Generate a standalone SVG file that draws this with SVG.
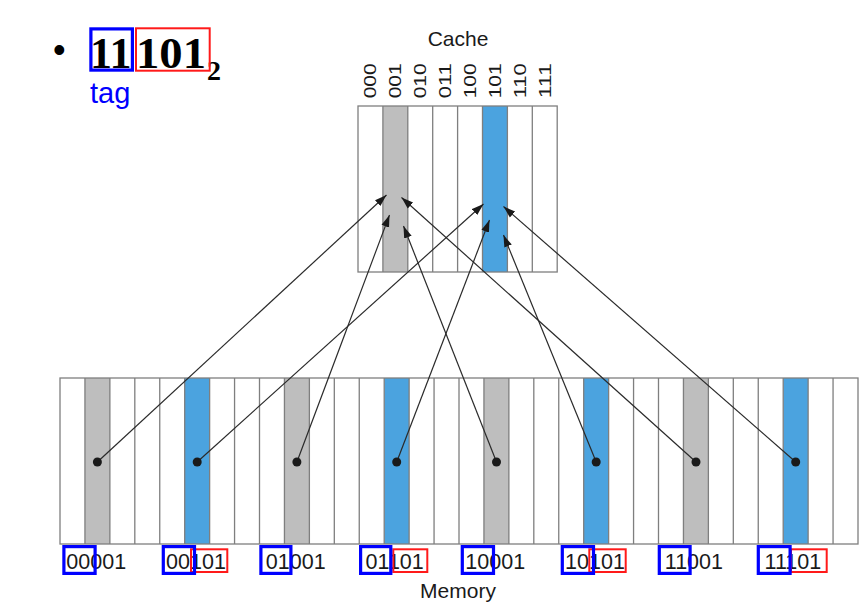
<svg xmlns="http://www.w3.org/2000/svg" width="868" height="610" viewBox="0 0 868 610">
<defs>
<style>
.sans{font-family:"Liberation Sans",Arial,sans-serif;fill:#1a1a1a}
.grid{fill:none;stroke:#7f7f7f;stroke-width:1.3}
.gray{fill:#bebebe}
.blue{fill:#4ba3df}
.conn{stroke:#2a2a2a;stroke-width:1.2;fill:none}
.dot{fill:#1a1a1a}
.tagbox{fill:none;stroke:#0000ff;stroke-width:3.2}
.idxbox{fill:none;stroke:#ff1a1a;stroke-width:2}
.mlab{font-size:21.5px}
.clab{font-size:16.5px}
</style>
<marker id="arr" markerUnits="userSpaceOnUse" markerWidth="14" markerHeight="10" refX="12" refY="4.5" orient="auto">
<path d="M0,0.5 L12,4.5 L0,8.5 z" fill="#1a1a1a"/>
</marker>
</defs>
<rect width="868" height="610" fill="#ffffff"/>

<g id="title">
<text x="53" y="62" font-family="Liberation Sans,Arial,sans-serif" font-size="36" fill="#000">•</text>
<text y="68.3" font-family="Liberation Serif,Times New Roman,serif" font-weight="bold" font-size="44" fill="#000"><tspan x="90">11</tspan><tspan x="136" textLength="70" lengthAdjust="spacingAndGlyphs">101</tspan><tspan x="207" y="80" font-size="28">2</tspan></text>
<rect class="tagbox" x="90.9" y="28.9" width="41.5" height="41.2"/>
<rect class="idxbox" x="136" y="28.3" width="73.7" height="42.4"/>
<text x="90" y="103" font-family="Liberation Sans,Arial,sans-serif" font-size="29" fill="#0000ff">tag</text>
</g>

<g id="cache">
<text class="sans" x="458" y="45.7" font-size="21" text-anchor="middle">Cache</text>
<rect x="358" y="106" width="199.2" height="166" fill="#fff"/>
<rect class="gray" x="382.9" y="106" width="24.9" height="166"/>
<rect class="blue" x="482.5" y="106" width="24.9" height="166"/>
<rect class="grid" x="358" y="106" width="199.2" height="166"/>
<path class="grid" d="M382.9,106V272M407.8,106V272M432.7,106V272M457.6,106V272M482.5,106V272M507.4,106V272M532.3,106V272"/>
<g class="sans clab">
<text transform="translate(376.3,98.3) rotate(-90)" textLength="35" lengthAdjust="spacingAndGlyphs">000</text>
<text transform="translate(401.2,98.3) rotate(-90)" textLength="35" lengthAdjust="spacingAndGlyphs">001</text>
<text transform="translate(426.1,98.3) rotate(-90)" textLength="35" lengthAdjust="spacingAndGlyphs">010</text>
<text transform="translate(451,98.3) rotate(-90)" textLength="35" lengthAdjust="spacingAndGlyphs">011</text>
<text transform="translate(475.9,98.3) rotate(-90)" textLength="35" lengthAdjust="spacingAndGlyphs">100</text>
<text transform="translate(500.8,98.3) rotate(-90)" textLength="35" lengthAdjust="spacingAndGlyphs">101</text>
<text transform="translate(525.7,98.3) rotate(-90)" textLength="35" lengthAdjust="spacingAndGlyphs">110</text>
<text transform="translate(550.6,98.3) rotate(-90)" textLength="35" lengthAdjust="spacingAndGlyphs">111</text>
</g>
</g>

<g id="memory">
<rect x="60" y="378" width="798" height="166" fill="#fff"/>
<g class="gray">
<rect x="84.94" y="378" width="24.94" height="166"/>
<rect x="284.44" y="378" width="24.94" height="166"/>
<rect x="483.94" y="378" width="24.94" height="166"/>
<rect x="683.44" y="378" width="24.94" height="166"/>
</g>
<g class="blue">
<rect x="184.69" y="378" width="24.94" height="166"/>
<rect x="384.19" y="378" width="24.94" height="166"/>
<rect x="583.69" y="378" width="24.94" height="166"/>
<rect x="783.19" y="378" width="24.94" height="166"/>
</g>
<rect class="grid" x="60" y="378" width="798" height="166"/>
<path class="grid" d="M84.94,378V544M109.88,378V544M134.81,378V544M159.75,378V544M184.69,378V544M209.63,378V544M234.56,378V544M259.5,378V544M284.44,378V544M309.38,378V544M334.31,378V544M359.25,378V544M384.19,378V544M409.13,378V544M434.06,378V544M459,378V544M483.94,378V544M508.88,378V544M533.81,378V544M558.75,378V544M583.69,378V544M608.63,378V544M633.56,378V544M658.5,378V544M683.44,378V544M708.38,378V544M733.31,378V544M758.25,378V544M783.19,378V544M808.13,378V544M833.06,378V544"/>
<g class="sans mlab">
<text x="66.3" y="568.5">00001</text>
<text x="166.1" y="568.5">00101</text>
<text x="265.8" y="568.5">01001</text>
<text x="365.6" y="568.5">01101</text>
<text x="465.3" y="568.5">10001</text>
<text x="565.1" y="568.5">10101</text>
<text x="664.8" y="568.5">11001</text>
<text x="764.6" y="568.5">11101</text>
</g>
<g>
<rect class="idxbox" x="191" y="549.3" width="36.3" height="22.7"/>
<rect class="idxbox" x="393.3" y="549.3" width="34" height="22.7"/>
<rect class="idxbox" x="589.3" y="549.3" width="36.4" height="22.7"/>
<rect class="idxbox" x="791" y="549.3" width="35.7" height="22.7"/>
</g>
<g>
<rect class="tagbox" x="63.9" y="546.6" width="31.2" height="26.8"/>
<rect class="tagbox" x="163.3" y="546.6" width="31.2" height="26.8"/>
<rect class="tagbox" x="260.9" y="546.6" width="30" height="26.8"/>
<rect class="tagbox" x="360.6" y="546.6" width="30.2" height="26.8"/>
<rect class="tagbox" x="462.3" y="546.6" width="31.2" height="26.8"/>
<rect class="tagbox" x="562.3" y="546.6" width="31.2" height="26.8"/>
<rect class="tagbox" x="659.3" y="546.6" width="30.8" height="26.8"/>
<rect class="tagbox" x="758.3" y="546.6" width="31.8" height="26.8"/>
</g>
<text class="sans" x="458" y="598" font-size="21" text-anchor="middle">Memory</text>
</g>

<g id="connectors">
<line class="conn" x1="97.4" y1="462" x2="386.5" y2="195" marker-end="url(#arr)"/>
<line class="conn" x1="197.2" y1="462" x2="483.5" y2="204" marker-end="url(#arr)"/>
<line class="conn" x1="296.9" y1="462" x2="389.5" y2="215" marker-end="url(#arr)"/>
<line class="conn" x1="396.7" y1="462" x2="489.5" y2="220" marker-end="url(#arr)"/>
<line class="conn" x1="496.5" y1="462" x2="403.5" y2="226" marker-end="url(#arr)"/>
<line class="conn" x1="596.2" y1="462" x2="503.5" y2="235" marker-end="url(#arr)"/>
<line class="conn" x1="696" y1="462" x2="401.5" y2="197.5" marker-end="url(#arr)"/>
<line class="conn" x1="795.7" y1="462" x2="503.5" y2="206.5" marker-end="url(#arr)"/>
<g class="dot">
<circle cx="97.4" cy="462" r="4.5"/>
<circle cx="197.2" cy="462" r="4.5"/>
<circle cx="296.9" cy="462" r="4.5"/>
<circle cx="396.7" cy="462" r="4.5"/>
<circle cx="496.5" cy="462" r="4.5"/>
<circle cx="596.2" cy="462" r="4.5"/>
<circle cx="696" cy="462" r="4.5"/>
<circle cx="795.7" cy="462" r="4.5"/>
</g>
</g>
</svg>
